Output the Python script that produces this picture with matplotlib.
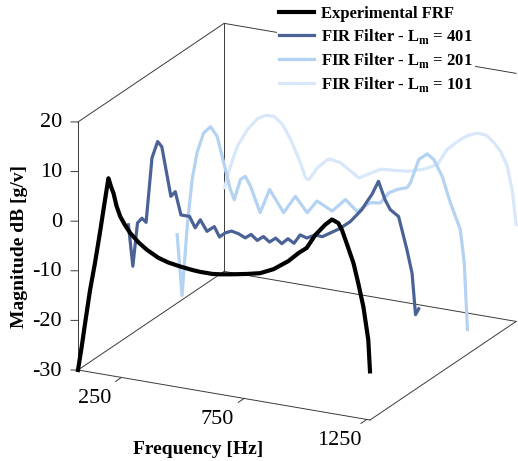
import numpy as np
import matplotlib.pyplot as plt

plt.rcParams.update({
    'font.family': 'Liberation Serif',
    'mathtext.fontset': 'custom',
    'mathtext.rm': 'Liberation Serif',
    'mathtext.bf': 'Liberation Serif:bold',
})

# -----------------------
# Data
# -----------------------
F_MIN, F_MAX = 73, 1263
Z_MIN, Z_MAX = -30, 20

exp_f = [73, 88, 102, 122, 142, 162, 183, 197, 207, 218, 230, 245, 265, 286,
         320, 354, 400, 440, 488, 540, 570, 620, 653, 700, 762, 815, 871, 896,
         930, 972, 1005, 1040, 1080, 1108, 1134, 1149, 1168, 1196, 1215, 1236,
         1256, 1263]
exp_db = [-30, -25.2, -20.3, -13.5, -7.9, -1.7, 5.2, 9.7, 8.2, 6.8, 4.4, 2.4,
          0.8, -0.6, -2.2, -3.4, -4.6, -5.2, -5.6, -5.9, -6.0, -6.0, -5.8, -5.4,
          -4.8, -4.2, -2.9, -2.0, -0.8, 1.2, 2.5, 5.4, 7.8, 9.1, 8.6, 7.3, 4.8,
          1.0, -2.8, -7.4, -13.9, -20.2]

fir401_f = [80, 98, 117, 135, 152, 176, 199, 216, 237, 253, 271, 294, 329, 352,
            373, 400, 430, 451, 474, 500, 529, 556, 580, 605, 630, 655, 680, 705,
            730, 755, 780, 807, 841, 870, 902, 940, 984, 1031, 1052, 1072, 1099,
            1126, 1147, 1181, 1215, 1236, 1250, 1263]
fir401_db = [-7.3, -15.5, -6.6, -5.5, -6.2, 7.0, 10.5, 9.6, 4.1, -0.1, 1.0, -3.5,
             -3.5, -5.6, -3.8, -5.9, -4.7, -6.6, -5.6, -5.0, -5.3, -5.9, -5.0,
             -6.0, -5.0, -5.9, -4.9, -5.8, -4.6, -5.3, -3.4, -3.8, -2.9, -3.0,
             -2.0, -0.8, 1.0, 3.8, 5.6, 7.2, 10.1, 6.6, 4.8, 3.7, -2.7, -7.3,
             -15.5, -14.2]

fir201_f = [80, 100, 121, 141, 161, 188, 216, 243, 270, 297, 313, 338, 358, 379,
            418, 457, 514, 562, 610, 650, 712, 766, 813, 867, 908, 942, 977,
            1017, 1031, 1065, 1099, 1126, 1160, 1194, 1234, 1250, 1263]
fir201_db = [-15.9, -28.0, -13.9, -4.3, 1.3, 5.5, 7.0, 5.3, 0.2, -5.0, -6.9,
             -2.6, -1.8, -3.6, -8.6, -3.6, -7.8, -4.1, -7.0, -4.3, -5.8, -3.0,
             -5.0, -2.8, -2.5, -0.2, 0.8, 1.5, 2.6, 7.6, 9.0, 8.1, 5.0, -0.1,
             -5.1, -11.6, -25.0]

fir101_f = [75, 99, 127, 168, 208, 242, 276, 310, 344, 378, 405, 418, 453, 494,
            507, 548, 622, 711, 820, 887, 942, 982, 1037, 1069, 1105, 1142, 1172,
            1200, 1227, 1248, 1263]
fir101_db = [-13.1, -8.5, -4.3, -0.6, 1.9, 2.9, 3.0, 1.7, -1.1, -4.8, -8.3,
             -8.6, -5.9, -3.9, -3.7, -4.1, -6.5, -4.0, -3.5, -2.5, -1.1, 2.3,
             4.8, 5.9, 6.6, 6.5, 5.3, 3.7, 1.0, -4.0, -10.5]

labels = ['Experimental FRF',
          r'FIR Filter - L$_{\mathbf{m}}$ = 401',
          r'FIR Filter - L$_{\mathbf{m}}$ = 201',
          r'FIR Filter - L$_{\mathbf{m}}$ = 101']
x_ticks = [250, 750, 1250]
z_ticks = [-30, -20, -10, 0, 10, 20]

# -----------------------
# Style
# -----------------------
COLORS = ['#000000', '#4A6296', '#B4D2F2', '#D8E7F9']
WIDTHS = [3.0, 2.3, 2.3, 2.3]
BOX = '#3a3a3a'

W, H = 518, 461
fig = plt.figure(figsize=(W / 100, H / 100), dpi=100)
ax = fig.add_axes([0, 0, 1, 1], projection='3d', proj_type='ortho')
ax.set_axis_off()
ax.computed_zorder = False
ax.set_xlim(F_MIN, F_MAX)
ax.set_ylim(1, 4)
ax.set_zlim(Z_MIN, Z_MAX)
ax.set_box_aspect((326.9, 324.7, 263.7))
ax.view_init(elev=19.87, azim=-63.26)

x0, x1, y0, y1, z0, z1 = F_MIN, F_MAX, 1, 4, Z_MIN, Z_MAX

# box edges (back planes, MATLAB style)
edges = [((x0, x1), (y0, y0), (z0, z0)),
         ((x0, x0), (y0, y1), (z0, z0)),
         ((x0, x1), (y1, y1), (z0, z0)),
         ((x1, x1), (y0, y1), (z0, z0)),
         ((x0, x0), (y0, y0), (z0, z1)),
         ((x0, x0), (y1, y1), (z0, z1)),
         ((x0, x0), (y0, y1), (z1, z1)),
         ((x0, x1), (y1, y1), (z1, z1))]
for ex, ey, ez in edges:
    ax.plot(ex, ey, ez, color=BOX, lw=0.7, zorder=1, clip_on=False)

# tick marks
for z in z_ticks:
    ax.plot([x0, x0 - 22.7], [y0, y0 - 0.029], [z, z], color=BOX, lw=0.7,
            zorder=1, clip_on=False)
for f in x_ticks:
    ax.plot([f, f], [y0, y0 - 0.12], [z0, z0], color=BOX, lw=0.7, zorder=1,
            clip_on=False)

# series, one depth each (front to back)
series = [(exp_f, exp_db), (fir401_f, fir401_db), (fir201_f, fir201_db),
          (fir101_f, fir101_db)]
handles = []
for i, (f, db) in enumerate(series):
    ln, = ax.plot(f, np.full(len(f), 1 + i), db, color=COLORS[i], lw=WIDTHS[i],
                  zorder=10 - i, clip_on=False, solid_joinstyle='round')
    handles.append(ln)

fig.text(20 / W, 1 - 246 / H, 'Magnitude dB [g/v]', rotation=90, ha='center',
         va='center', fontsize=14, fontweight='bold')
fig.text(198 / W, 1 - 449 / H, 'Frequency [Hz]', ha='center', va='center',
         fontsize=14, fontweight='bold')

fig.legend(handles, labels, loc='upper left',
           bbox_to_anchor=(277 / W, 1 - 4 / H),
           prop={'weight': 'bold', 'size': 12}, frameon=True, facecolor='white',
           edgecolor='none', framealpha=1, fancybox=False, handlelength=2.1,
           handletextpad=0.45, labelspacing=0.3, borderpad=0.1,
           borderaxespad=0)

# place the 3D box so its front-bottom-left corner and x edge match the layout
fig.canvas.draw()


def to_px(x, y, z):
    v = ax.M @ np.array([x, y, z, 1.0])
    return ax.transData.transform((v[0] / v[3], v[1] / v[3]))


p0 = to_px(x0, y0, z0)
p1 = to_px(x1, y0, z0)
s = np.hypot(292, 50) / np.hypot(*(p1 - p0))
bb = ax.get_position()
ox, oy, w = bb.x0 * W, bb.y0 * H, bb.width * W
nox = 78 - s * (p0[0] - ox)
noy = (H - 370) - s * (p0[1] - oy)
ax.set_position([nox / W, noy / H, s * w / W, s * w / H])
fig.canvas.draw()

# tick labels, placed next to the projected tick positions
for z in z_ticks:
    px, py = to_px(x0, y0, z)
    fig.text((px - 16) / W, (py - 1) / H, str(z), ha='right', va='center',
             fontsize=16)
for f in x_ticks:
    px, py = to_px(f, y0, z0)
    fig.text((px - 27) / W, (py - 21) / H, str(f), ha='center', va='center',
             fontsize=16)

fig.savefig('out.png', dpi=100)
